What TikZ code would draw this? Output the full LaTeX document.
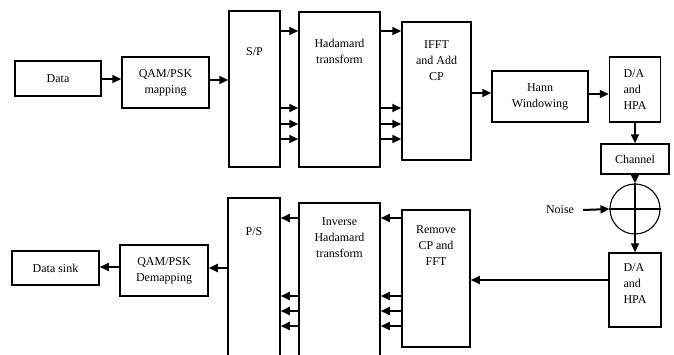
\documentclass[tikz,border=0pt]{standalone}
\usepackage{fontspec}
\setmainfont{Liberation Serif}
\usetikzlibrary{arrows.meta,positioning}
\tikzset{
  blk/.style={rectangle,draw=black,line width=1.5pt,align=center,
    inner sep=2pt,font=\fontsize{12}{16}\selectfont},
  tallblk/.style={rectangle,draw=black,line width=1.5pt,inner sep=0pt},
  txt/.style={align=center,inner sep=0pt,font=\fontsize{12}{16}\selectfont},
  arr/.style={-{Triangle[length=9pt,width=8pt]},line width=2pt},
  sumnode/.style={circle,draw=black,line width=1.1pt,minimum size=50pt,inner sep=0pt},
}

\begin{document}
\begin{tikzpicture}[x=1pt,y=-1pt]
  \useasboundingbox (0,0) rectangle (674,354);
  % transmitter
  \node[blk, minimum width=86pt, minimum height=35pt] (data) at (58,78.5) {Data};
  \node[blk, minimum width=87pt, minimum height=51pt] (map) at (165.5,82.5) {QAM/PSK\\mapping};
  \node[tallblk, minimum width=51pt, minimum height=156pt] (sp) at (254.5,89) {};
  \node[txt] (sptext) at (254.5,52) {S/P};
  \node[tallblk, minimum width=81pt, minimum height=155pt] (had) at (339.5,89.5) {};
  \node[txt] (hadtext) at (339.5,51.5) {Hadamard\\transform};
  \node[tallblk, minimum width=69pt, minimum height=138pt] (ifft) at (436.5,91) {};
  \node[txt] (iffttext) at (436.5,61) {IFFT\\and Add\\CP};
  \node[blk, minimum width=96pt, minimum height=51pt] (hann) at (540,96.5) {Hann\\Windowing};
  \node[blk, minimum width=51pt, minimum height=65pt, align=left] (da1) at (635,89.5) {D/A\\and\\HPA};
  \node[blk, minimum width=68pt, minimum height=30pt] (chan) at (635,159) {Channel};
  \node[sumnode] (sum) at (635,209) {};
  \draw[line width=1.1pt] (sum.north) -- (sum.south) (sum.west) -- (sum.east);
  \node[txt] (noise) at (560,210) {Noise};
  % receiver
  \node[tallblk, minimum width=52pt, minimum height=74pt] (da2) at (635,290) {};
  \node[txt, align=left] (da2text) at (635,284) {D/A\\and\\HPA};
  \node[tallblk, minimum width=68pt, minimum height=137pt] (rem) at (436,278.5) {};
  \node[txt] (remtext) at (436,246) {Remove\\CP and\\FFT};
  \node[tallblk, minimum width=81pt, minimum height=157pt] (ihad) at (339.5,281.5) {};
  \node[txt] (ihadtext) at (339.5,238) {Inverse\\Hadamard\\transform};
  \node[tallblk, minimum width=52pt, minimum height=162pt] (ps) at (254,279) {};
  \node[txt] (pstext) at (254,232) {P/S};
  \node[blk, minimum width=88pt, minimum height=51pt] (demap) at (164,270.5) {QAM/PSK\\Demapping};
  \node[blk, minimum width=87pt, minimum height=34pt] (sink) at (55.5,268) {Data sink};

  % connections
  \draw[arr] (data.east |- 0,79) -- (map.west |- 0,79);
  \draw[arr] (map.east |- 0,80) -- (sp.west |- 0,80);
  \foreach \y in {31,108,124,139} {
    \draw[arr] (sp.east |- 0,\y) -- (had.west |- 0,\y);
    \draw[arr] (had.east |- 0,\y) -- (ifft.west |- 0,\y);
  }
  \draw[arr] (ifft.east |- 0,93) -- (hann.west |- 0,93);
  \draw[arr] (hann.east |- 0,94) -- (da1.west |- 0,94);
  \draw[arr] (da1.south) -- (chan.north);
  \draw[arr] (chan.south) -- (sum.north);
  \draw[arr] ([xshift=9pt]noise.east) -- (sum.west);
  \draw[arr] (sum.south) -- (da2.north);
  \draw[arr] (da2.west |- 0,280) -- (rem.east |- 0,280);
  \foreach \y in {218,296,311,326} {
    \draw[arr] (rem.west |- 0,\y) -- (ihad.east |- 0,\y);
    \draw[arr] (ihad.west |- 0,\y) -- (ps.east |- 0,\y);
  }
  \draw[arr] (ps.west |- 0,268) -- (demap.east |- 0,268);
  \draw[arr] (demap.west |- 0,267) -- (sink.east |- 0,267);
\end{tikzpicture}
\end{document}
